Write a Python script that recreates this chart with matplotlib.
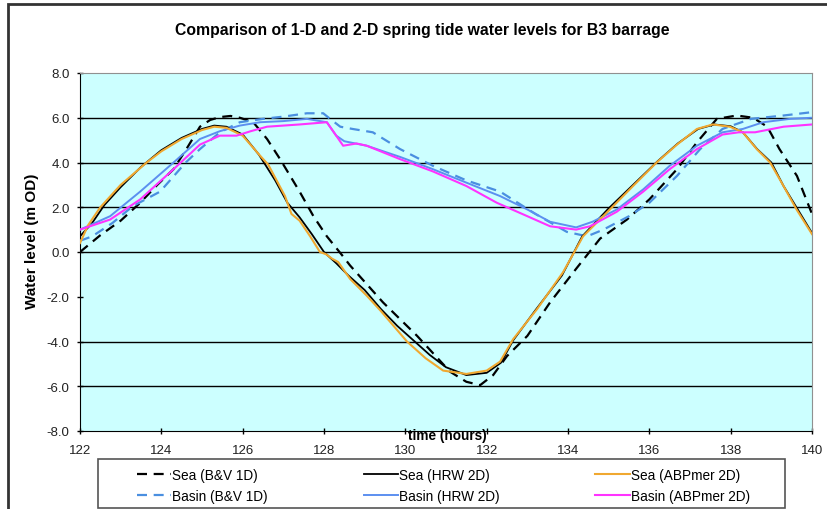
import numpy as np
import matplotlib.pyplot as plt
from matplotlib.patches import Rectangle

plt.rcParams['font.family'] = ['Liberation Sans', 'DejaVu Sans']

# time (hours) and water level (m OD) for each series
t_sea_bv = [122.0, 122.5, 123.0, 123.48, 123.9, 124.3, 124.65, 124.95, 125.2, 125.44, 125.7, 125.93,
            126.26, 126.6, 126.92, 127.4, 127.74, 128.07, 128.47, 128.64, 129.45, 130.29, 131.1, 131.5,
            131.84, 132.16, 132.5, 133.0, 133.56, 134.2, 134.79, 135.45, 136.0, 136.68, 137.17, 137.66,
            138.15, 138.55, 138.9, 139.2, 139.63, 140.0]
sea_bv = [0.0, 0.75, 1.4, 2.2, 3.0, 3.7, 4.7, 5.6, 5.9, 6.03, 6.08, 6.0,
          5.8, 5.05, 4.15, 2.7, 1.6, 0.7, -0.2, -0.6, -2.25, -3.75, -5.35, -5.8,
          -5.95, -5.5, -4.65, -3.75, -2.25, -0.75, 0.6, 1.45, 2.35, 3.7, 4.9, 5.95,
          6.1, 6.0, 5.6, 4.6, 3.4, 1.7]

t_sea_hrw = [122.0, 122.3, 122.6, 123.0, 123.5, 124.0, 124.5, 125.0, 125.3, 125.6, 126.0, 126.4,
             126.8, 127.1, 127.4, 127.7, 128.0, 128.3, 128.6, 129.0, 129.4, 129.8, 130.2, 130.6,
             131.0, 131.5, 132.0, 132.35, 132.65, 133.2, 133.85, 134.35, 135.0, 135.6, 136.2, 136.7,
             137.2, 137.6, 138.0, 138.3, 138.65, 139.0, 139.3, 139.65, 140.0]
sea_hrw = [0.7, 1.3, 2.1, 2.9, 3.8, 4.55, 5.1, 5.5, 5.65, 5.6, 5.25, 4.35,
           3.2, 2.2, 1.55, 0.8, 0.0, -0.5, -1.05, -1.7, -2.55, -3.3, -3.95, -4.6,
           -5.15, -5.5, -5.4, -4.95, -3.95, -2.6, -1.05, 0.7, 1.95, 3.0, 4.05, 4.85,
           5.5, 5.7, 5.62, 5.35, 4.6, 4.0, 2.95, 1.9, 0.85]

t_sea_abp = [122.0, 122.2, 122.5, 123.0, 123.64, 124.0, 124.5, 125.0, 125.3, 125.6, 126.0, 126.43,
             126.63, 127.04, 127.2, 127.4, 127.66, 127.9, 128.05, 128.2, 128.35, 128.64, 129.05, 129.38,
             130.04, 130.5, 130.93, 131.5, 132.0, 132.33, 132.65, 133.24, 133.88, 134.37, 135.03, 135.6,
             136.18, 136.68, 137.17, 137.56, 137.98, 138.3, 138.64, 138.97, 139.3, 139.62, 140.0]
sea_abp = [0.4, 1.2, 2.0, 3.0, 4.0, 4.5, 5.05, 5.45, 5.6, 5.55, 5.2, 4.3,
           3.9, 2.5, 1.7, 1.4, 0.7, 0.0, -0.1, -0.3, -0.45, -1.2, -1.95, -2.6,
           -4.0, -4.75, -5.3, -5.45, -5.3, -4.9, -3.9, -2.55, -0.9, 0.7, 1.9, 2.95,
           4.0, 4.8, 5.5, 5.7, 5.6, 5.35, 4.6, 4.0, 2.95, 1.9, 0.8]

t_basin_bv = [122.0, 122.3, 122.8, 123.3, 123.97, 124.6, 124.95, 125.44, 125.93, 126.5, 127.0, 127.58,
              127.98, 128.15, 128.4, 128.7, 129.2, 129.87, 130.68, 131.5, 132.33, 133.2, 133.97, 134.47,
              134.87, 135.5, 136.0, 136.68, 137.25, 137.8, 138.5, 139.3, 140.0]
basin_bv = [0.5, 0.7, 1.3, 2.05, 2.7, 4.0, 4.6, 5.35, 5.8, 5.95, 6.05, 6.2,
            6.2, 5.95, 5.6, 5.5, 5.35, 4.6, 3.85, 3.2, 2.7, 1.7, 0.9, 0.7,
            1.0, 1.6, 2.2, 3.4, 4.6, 5.5, 5.95, 6.1, 6.25]

t_basin_hrw = [122.0, 122.74, 123.48, 124.3, 124.95, 125.44, 125.93, 126.43, 127.0, 127.58, 128.07, 128.3,
               128.5, 129.05, 129.87, 130.68, 131.5, 132.33, 133.0, 133.56, 134.2, 134.6, 135.2, 135.85,
               136.5, 137.17, 137.8, 138.3, 138.8, 139.46, 140.0]
basin_hrw = [1.0, 1.6, 2.7, 4.0, 5.05, 5.4, 5.65, 5.8, 5.85, 5.95, 5.8, 5.2,
             4.95, 4.75, 4.25, 3.7, 3.1, 2.5, 1.9, 1.35, 1.1, 1.35, 1.9, 2.8,
             3.85, 4.75, 5.35, 5.5, 5.8, 5.95, 6.0]

t_basin_abp = [122.0, 122.74, 123.48, 124.3, 124.95, 125.44, 125.85, 126.2, 126.6, 127.4, 128.07, 128.3,
               128.47, 128.8, 129.05, 129.87, 130.68, 131.5, 132.25, 133.0, 133.56, 134.2, 134.54, 135.2,
               135.85, 136.5, 137.17, 137.8, 138.2, 138.6, 139.3, 140.0]
basin_abp = [1.0, 1.45, 2.35, 3.7, 4.8, 5.2, 5.2, 5.4, 5.6, 5.7, 5.8, 5.2,
             4.75, 4.85, 4.75, 4.15, 3.6, 2.95, 2.2, 1.6, 1.15, 1.0, 1.15, 1.8,
             2.7, 3.7, 4.6, 5.25, 5.35, 5.35, 5.6, 5.7]

labels = ['Sea (B&V 1D)', 'Basin (B&V 1D)', 'Sea (HRW 2D)',
          'Basin (HRW 2D)', 'Sea (ABPmer 2D)', 'Basin (ABPmer 2D)']
x_ticks = [122, 124, 126, 128, 130, 132, 134, 136, 138, 140]
y_ticks = [-8.0, -6.0, -4.0, -2.0, 0.0, 2.0, 4.0, 6.0, 8.0]
grid_levels = [6.0, 4.0, 2.0, 0.0, -4.0, -6.0]

fig = plt.figure(figsize=(8.28, 5.10), dpi=100)
ax = fig.add_axes([80 / 828, 1 - 432 / 510, 732 / 828, 358 / 510])
ax.set_facecolor('#ccffff')

for g in grid_levels:
    ax.axhline(g, color='black', lw=1.0, zorder=1)

dash = (0, (4.5, 3))
lines = {}
lines['Sea (B&V 1D)'], = ax.plot(t_sea_bv, sea_bv, color='black', lw=1.6, ls=dash, zorder=3)
lines['Basin (B&V 1D)'], = ax.plot(t_basin_bv, basin_bv, color='#4a8fe0', lw=1.6, ls=dash, zorder=3)
lines['Sea (HRW 2D)'], = ax.plot(t_sea_hrw, sea_hrw, color='black', lw=1.3, zorder=3)
lines['Basin (HRW 2D)'], = ax.plot(t_basin_hrw, basin_hrw, color='#5c8ff0', lw=1.4, zorder=3)
lines['Sea (ABPmer 2D)'], = ax.plot(t_sea_abp, sea_abp, color='#f0a830', lw=1.5, zorder=4)
lines['Basin (ABPmer 2D)'], = ax.plot(t_basin_abp, basin_abp, color='#ff33ff', lw=1.5, zorder=4)

ax.set_xlim(122, 140)
ax.set_ylim(-8, 8)
ax.set_xticks(x_ticks)
ax.set_yticks(y_ticks)
ax.set_yticklabels(['%.1f' % v for v in y_ticks])
ax.tick_params(direction='inout', length=5, width=1, labelsize=9.5, colors='black', labelcolor='#222222')
ax.tick_params(axis='x', pad=7)
ax.tick_params(axis='y', pad=5)
for s in ['top', 'right']:
    ax.spines[s].set_color('#909090')
for s in ['left', 'bottom']:
    ax.spines[s].set_color('black')

fig.text(422 / 828, 1 - 30 / 510, 'Comparison of 1-D and 2-D spring tide water levels for B3 barrage',
         ha='center', va='center', fontsize=11.3, fontweight='bold')
fig.text(32 / 828, 1 - 241 / 510, 'Water level (m OD)', rotation=90,
         ha='center', va='center', fontsize=11, fontweight='bold')
fig.text(447 / 828, 1 - 436 / 510, 'time (hours)',
         ha='center', va='center', fontsize=9.8, fontweight='bold')

# outer chart frame
fig.patches.append(Rectangle((8 / 828, -0.1), 1.2, 1 - 5 / 510 + 0.1, transform=fig.transFigure,
                             fill=False, edgecolor='#333333', lw=2))
# legend box
fig.patches.append(Rectangle((98 / 828, 1 - 509 / 510), 687 / 828, 49 / 510, transform=fig.transFigure,
                             fill=False, edgecolor='#555555', lw=1.2))

fig.legend([lines[l] for l in labels], labels, ncol=3, mode='expand', frameon=False,
           loc='upper left', bbox_to_anchor=(137 / 828, 1 - 506 / 510, 613 / 828, 37 / 510),
           fontsize=9.8, handlelength=2.5, handletextpad=0.1, labelspacing=0.5,
           borderpad=0.0, borderaxespad=0.0)

fig.savefig('out.png', dpi=100)
